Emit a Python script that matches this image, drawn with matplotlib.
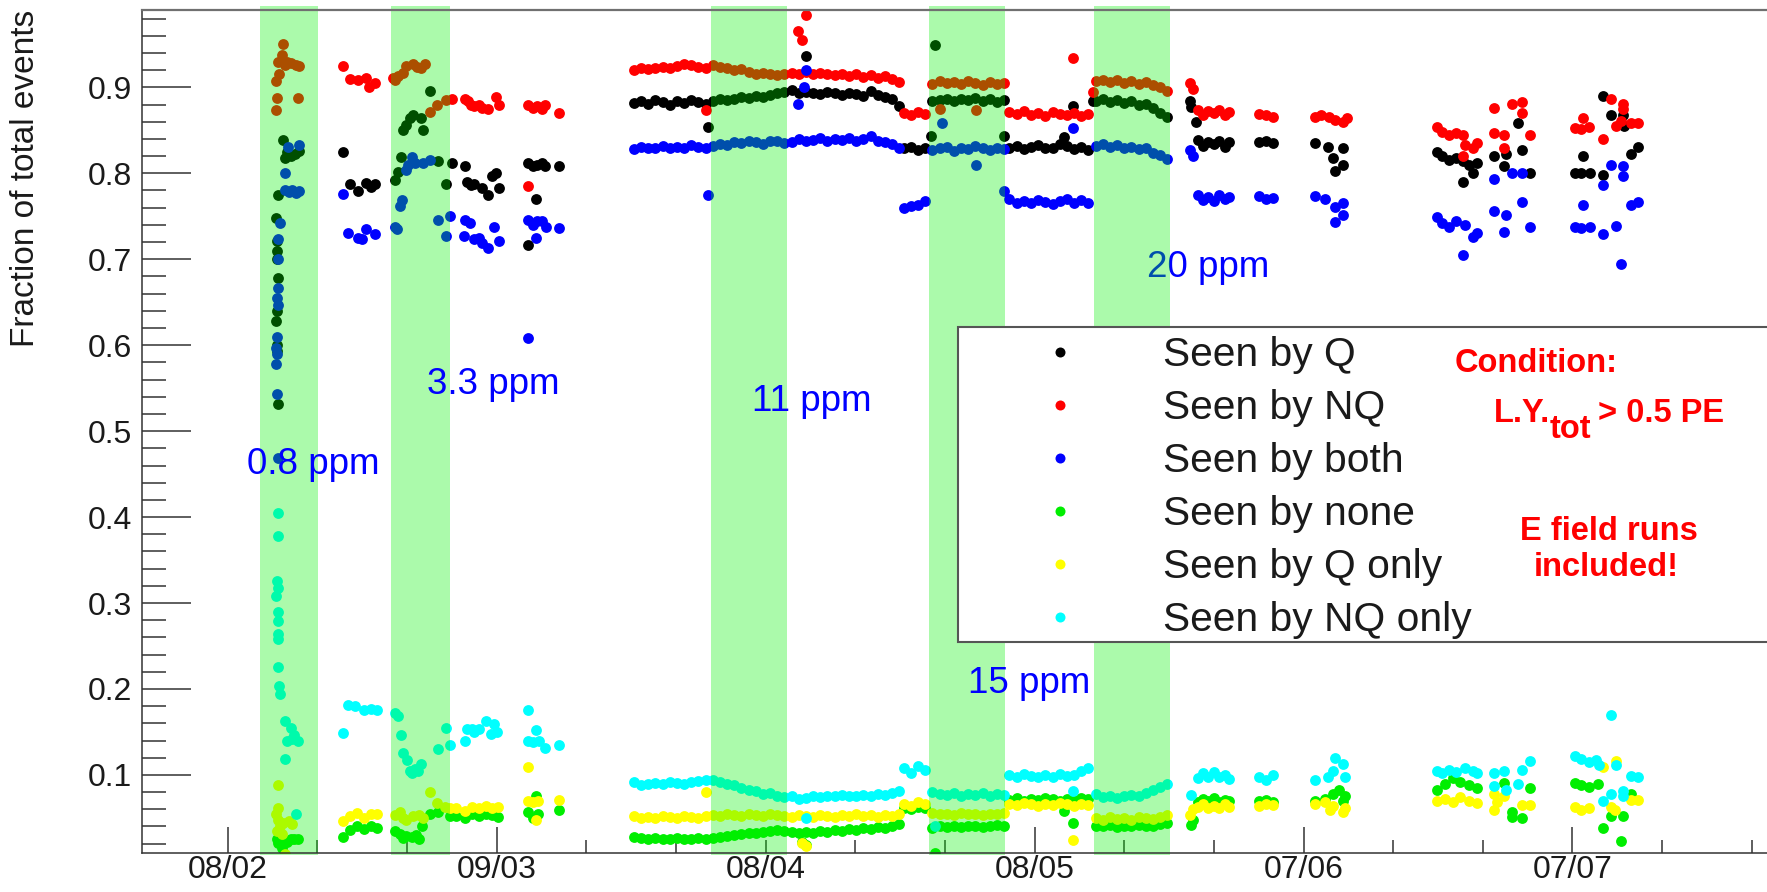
import matplotlib
matplotlib.use('Agg')
import matplotlib.pyplot as plt
from matplotlib.lines import Line2D
from matplotlib.patches import Rectangle

plt.rcParams['font.family'] = ['Liberation Sans', 'DejaVu Sans']

# ---------------- data ----------------
series_labels = ['Seen by Q', 'Seen by NQ', 'Seen by both', 'Seen by none',
                 'Seen by Q only', 'Seen by NQ only']
series_colors = ['#000000', '#ff0000', '#0000ff', '#00ee00', '#ffff00', '#00ffff']

tick_pos = [0, 3, 6, 9, 12, 15]
tick_labels = ['08/02', '09/03', '08/04', '08/05', '07/06', '07/07']

# runs with (nearly) continuous data taking
run_x = [4.53, 4.61, 4.69, 4.77, 4.85, 4.93, 5.01, 5.09, 5.17, 5.25, 5.33, 5.41, 5.49,
         5.57, 5.65, 5.73, 5.81, 5.89, 5.97, 6.05, 6.13, 6.21, 6.29, 6.37, 6.45, 6.53,
         6.61, 6.69, 6.77, 6.85, 6.93, 7.01, 7.09, 7.17, 7.25, 7.33, 7.41, 7.49,
         7.54, 7.62, 7.70, 7.78,
         7.86, 7.94, 8.02, 8.10, 8.18, 8.26, 8.34, 8.42, 8.50, 8.58, 8.66,
         8.72, 8.80, 8.88, 8.96, 9.04, 9.12, 9.20, 9.28, 9.36, 9.44, 9.52, 9.60,
         9.68, 9.76, 9.84, 9.92, 10.00, 10.08, 10.16, 10.24, 10.32, 10.40, 10.48]

q_run = [0.882, 0.884, 0.881, 0.885, 0.883, 0.880, 0.884, 0.882, 0.885, 0.883, 0.881, 0.884, 0.886,
         0.885, 0.887, 0.889, 0.888, 0.890, 0.889, 0.891, 0.893, 0.895, 0.897, 0.893, 0.895, 0.894,
         0.892, 0.895, 0.893, 0.891, 0.894, 0.892, 0.890, 0.896, 0.891, 0.889, 0.887, 0.878,
         0.829, 0.831, 0.827, 0.830,
         0.884, 0.885, 0.887, 0.884, 0.886, 0.885, 0.888, 0.884, 0.886, 0.883, 0.885,
         0.829, 0.832, 0.828, 0.831, 0.833, 0.829, 0.830, 0.834, 0.832, 0.828, 0.831, 0.827,
         0.884, 0.886, 0.883, 0.885, 0.882, 0.884, 0.880, 0.881, 0.876, 0.870, 0.865]
nq_run = [0.920, 0.922, 0.921, 0.923, 0.924, 0.922, 0.925, 0.927, 0.926, 0.924, 0.923, 0.926, 0.924,
          0.922, 0.920, 0.921, 0.918, 0.916, 0.917, 0.915, 0.914, 0.916, 0.917, 0.915, 0.918, 0.916,
          0.917, 0.915, 0.914, 0.916, 0.913, 0.915, 0.912, 0.914, 0.911, 0.913, 0.910, 0.906,
          0.870, 0.868, 0.871, 0.869,
          0.904, 0.907, 0.905, 0.906, 0.904, 0.907, 0.905, 0.903, 0.906, 0.904, 0.905,
          0.871, 0.869, 0.872, 0.868, 0.870, 0.867, 0.871, 0.869, 0.868, 0.870, 0.867, 0.869,
          0.907, 0.909, 0.906, 0.908, 0.905, 0.907, 0.904, 0.906, 0.903, 0.900, 0.896]
both_run = [0.828, 0.831, 0.830, 0.829, 0.832, 0.830, 0.831, 0.829, 0.833, 0.831, 0.830, 0.832, 0.834,
            0.833, 0.836, 0.835, 0.838, 0.836, 0.834, 0.837, 0.838, 0.835, 0.836, 0.840, 0.838, 0.839,
            0.841, 0.838, 0.840, 0.839, 0.841, 0.837, 0.840, 0.843, 0.838, 0.836, 0.834, 0.830,
            0.760, 0.762, 0.763, 0.768,
            0.827, 0.829, 0.831, 0.826, 0.830, 0.828, 0.832, 0.829, 0.827, 0.830, 0.828,
            0.770, 0.766, 0.768, 0.765, 0.769, 0.767, 0.764, 0.768, 0.770, 0.766, 0.769, 0.765,
            0.832, 0.834, 0.831, 0.833, 0.830, 0.831, 0.828, 0.829, 0.824, 0.821, 0.817]
none_run = [0.028, 0.027, 0.026, 0.027, 0.025, 0.026, 0.027, 0.025, 0.026, 0.027, 0.026, 0.027, 0.028,
            0.029, 0.030, 0.031, 0.032, 0.033, 0.034, 0.035, 0.036, 0.035, 0.034, 0.033, 0.034, 0.033,
            0.035, 0.034, 0.036, 0.035, 0.037, 0.036, 0.038, 0.037, 0.039, 0.038, 0.040, 0.043,
            0.062, 0.060, 0.063, 0.061,
            0.038, 0.040, 0.039, 0.041, 0.039, 0.040, 0.041, 0.039, 0.040, 0.042, 0.041,
            0.071, 0.073, 0.070, 0.072, 0.071, 0.073, 0.072, 0.070, 0.072, 0.071, 0.073, 0.072,
            0.041, 0.040, 0.042, 0.039, 0.041, 0.040, 0.042, 0.040, 0.041, 0.043, 0.044]
qonly_run = [0.052, 0.050, 0.051, 0.050, 0.052, 0.051, 0.050, 0.052, 0.051, 0.050, 0.052, 0.053, 0.052,
             0.054, 0.053, 0.052, 0.054, 0.053, 0.052, 0.054, 0.053, 0.052, 0.051, 0.053, 0.052, 0.051,
             0.053, 0.052, 0.051, 0.053, 0.052, 0.054, 0.052, 0.053, 0.051, 0.053, 0.052, 0.054,
             0.066, 0.064, 0.068, 0.066,
             0.056, 0.054, 0.055, 0.053, 0.056, 0.054, 0.055, 0.053, 0.055, 0.054, 0.056,
             0.066, 0.065, 0.067, 0.066, 0.064, 0.066, 0.065, 0.067, 0.066, 0.064, 0.066, 0.065,
             0.050, 0.048, 0.051, 0.049, 0.050, 0.048, 0.051, 0.050, 0.049, 0.051, 0.053]
nqonly_run = [0.092, 0.088, 0.090, 0.091, 0.090, 0.092, 0.091, 0.090, 0.092, 0.093, 0.094, 0.094, 0.092,
              0.090, 0.088, 0.085, 0.083, 0.081, 0.078, 0.079, 0.076, 0.074, 0.075, 0.072, 0.073, 0.075,
              0.074, 0.076, 0.075, 0.077, 0.076, 0.075, 0.077, 0.076, 0.078, 0.077, 0.079, 0.081,
              0.108, 0.102, 0.110, 0.106,
              0.080, 0.078, 0.077, 0.079, 0.076, 0.078, 0.077, 0.079, 0.076, 0.078, 0.077,
              0.100, 0.098, 0.101, 0.099, 0.097, 0.100, 0.098, 0.101, 0.099, 0.100, 0.104, 0.108,
              0.078, 0.074, 0.076, 0.073, 0.075, 0.077, 0.076, 0.079, 0.082, 0.086, 0.089]

# isolated runs / scattered points (x, fraction)
q_pts = [(0.56, 0.531), (0.55, 0.593), (0.55, 0.60), (0.54, 0.628), (0.55, 0.64), (0.56, 0.678),
         (0.55, 0.70), (0.55, 0.71), (0.55, 0.721), (0.54, 0.748), (0.56, 0.775), (0.62, 0.839),
         (0.64, 0.818), (0.66, 0.825), (0.70, 0.820), (0.75, 0.822), (0.79, 0.826),
         (1.28, 0.825), (1.36, 0.787), (1.45, 0.779), (1.54, 0.789), (1.60, 0.784), (1.64, 0.787),
         (1.86, 0.792), (1.90, 0.802), (1.93, 0.819), (1.96, 0.85), (1.99, 0.856), (2.03, 0.864),
         (2.07, 0.868), (2.16, 0.864), (2.18, 0.85), (2.26, 0.896), (2.35, 0.814), (2.43, 0.787),
         (2.50, 0.812), (2.65, 0.808), (2.67, 0.79), (2.71, 0.786), (2.75, 0.787), (2.84, 0.783),
         (2.90, 0.775), (2.95, 0.797), (2.99, 0.80), (3.03, 0.783),
         (3.35, 0.812), (3.40, 0.808), (3.45, 0.81), (3.50, 0.812), (3.54, 0.809), (3.44, 0.77),
         (3.35, 0.716), (3.69, 0.808),
         (5.36, 0.854), (6.45, 0.936), (7.89, 0.949), (7.85, 0.843), (8.66, 0.843), (9.43, 0.878),
         (9.33, 0.842), (9.65, 0.884),
         (10.73, 0.884), (10.75, 0.877), (10.80, 0.86), (10.82, 0.839), (10.88, 0.832), (10.94, 0.836),
         (11.00, 0.834), (11.06, 0.838), (11.12, 0.831), (11.17, 0.836),
         (11.50, 0.836), (11.58, 0.838), (11.66, 0.835),
         (12.13, 0.835), (12.27, 0.831), (12.44, 0.829), (12.33, 0.818), (12.44, 0.81), (12.35, 0.803),
         (13.49, 0.825), (13.55, 0.82), (13.62, 0.816), (13.70, 0.818), (13.78, 0.814), (13.85, 0.81),
         (13.89, 0.80), (13.78, 0.79), (13.93, 0.812),
         (14.39, 0.858), (14.13, 0.82), (14.26, 0.822), (14.24, 0.808), (14.44, 0.827), (14.53, 0.8),
         (15.34, 0.89), (15.43, 0.868), (15.56, 0.868), (15.58, 0.855), (15.12, 0.82), (15.03, 0.80),
         (15.10, 0.80), (15.20, 0.80), (15.34, 0.798), (15.65, 0.823), (15.73, 0.831)]
nq_pts = [(0.54, 0.874), (0.55, 0.888), (0.54, 0.907), (0.57, 0.915), (0.56, 0.93), (0.60, 0.938),
          (0.62, 0.95), (0.64, 0.926), (0.66, 0.93), (0.70, 0.928), (0.76, 0.926), (0.80, 0.925),
          (0.78, 0.888),
          (1.28, 0.925), (1.36, 0.91), (1.45, 0.908), (1.54, 0.911), (1.57, 0.90), (1.64, 0.905),
          (1.84, 0.911), (1.87, 0.909), (1.90, 0.913), (1.96, 0.917), (1.99, 0.925), (2.07, 0.927),
          (2.11, 0.924), (2.16, 0.922), (2.20, 0.927), (2.26, 0.871), (2.33, 0.879), (2.43, 0.885),
          (2.50, 0.887), (2.65, 0.887), (2.68, 0.884), (2.71, 0.88), (2.75, 0.878), (2.80, 0.879),
          (2.84, 0.876), (2.90, 0.875), (2.99, 0.889), (3.03, 0.880),
          (3.35, 0.88), (3.40, 0.876), (3.45, 0.878), (3.50, 0.875), (3.54, 0.879), (3.35, 0.785),
          (3.69, 0.87),
          (5.34, 0.874), (6.36, 0.966), (6.40, 0.955), (6.45, 0.984), (7.94, 0.875), (8.35, 0.874),
          (9.43, 0.934), (9.65, 0.895),
          (10.73, 0.905), (10.77, 0.898), (10.82, 0.874), (10.88, 0.868), (10.94, 0.872), (11.00, 0.870),
          (11.06, 0.874), (11.12, 0.868), (11.17, 0.871),
          (11.50, 0.869), (11.58, 0.868), (11.66, 0.866),
          (12.13, 0.866), (12.20, 0.868), (12.28, 0.865), (12.35, 0.862), (12.44, 0.86), (12.48, 0.864),
          (13.49, 0.854), (13.55, 0.848), (13.62, 0.845), (13.70, 0.847), (13.78, 0.845), (13.80, 0.833),
          (13.89, 0.83), (13.93, 0.835), (13.78, 0.82),
          (14.13, 0.876), (14.33, 0.881), (14.44, 0.883), (14.44, 0.87), (14.13, 0.847), (14.24, 0.845),
          (14.53, 0.845), (14.24, 0.83),
          (15.12, 0.864), (15.03, 0.853), (15.10, 0.852), (15.18, 0.854), (15.34, 0.84), (15.49, 0.855),
          (15.43, 0.886), (15.56, 0.881), (15.56, 0.875), (15.54, 0.861), (15.65, 0.859), (15.73, 0.859)]
both_pts = [(0.56, 0.469), (0.55, 0.543), (0.54, 0.578), (0.55, 0.59), (0.54, 0.597), (0.55, 0.61),
            (0.56, 0.647), (0.55, 0.655), (0.56, 0.667), (0.56, 0.70), (0.56, 0.723), (0.58, 0.742),
            (0.64, 0.80), (0.64, 0.78), (0.68, 0.778), (0.72, 0.781), (0.76, 0.777), (0.79, 0.779),
            (0.67, 0.831), (0.79, 0.833),
            (1.28, 0.776), (1.34, 0.731), (1.45, 0.725), (1.50, 0.724), (1.54, 0.735), (1.64, 0.729),
            (1.86, 0.738), (1.89, 0.735), (1.92, 0.762), (1.94, 0.769), (1.99, 0.804), (2.01, 0.81),
            (2.05, 0.819), (2.09, 0.812), (2.18, 0.812), (2.26, 0.815), (2.35, 0.746), (2.43, 0.727),
            (2.48, 0.75), (2.64, 0.727), (2.65, 0.746), (2.70, 0.742), (2.75, 0.723), (2.80, 0.725),
            (2.84, 0.719), (2.90, 0.713), (2.97, 0.738), (3.03, 0.721),
            (3.35, 0.746), (3.40, 0.74), (3.45, 0.744), (3.50, 0.745), (3.55, 0.738), (3.44, 0.725),
            (3.35, 0.608), (3.69, 0.736),
            (5.36, 0.775), (6.36, 0.881), (6.43, 0.900), (6.45, 0.920), (7.97, 0.858), (8.35, 0.810),
            (8.66, 0.779), (9.43, 0.853),
            (10.73, 0.827), (10.77, 0.82), (10.82, 0.775), (10.88, 0.769), (10.94, 0.772), (11.00, 0.768),
            (11.06, 0.775), (11.12, 0.770), (11.17, 0.773),
            (11.50, 0.774), (11.58, 0.770), (11.66, 0.771),
            (12.13, 0.774), (12.24, 0.77), (12.35, 0.761), (12.44, 0.766), (12.44, 0.752), (12.35, 0.743),
            (13.49, 0.749), (13.55, 0.742), (13.62, 0.738), (13.70, 0.744), (13.80, 0.74), (13.89, 0.726),
            (13.93, 0.73), (13.78, 0.705),
            (14.13, 0.793), (14.33, 0.8), (14.44, 0.8), (14.44, 0.767), (14.13, 0.756), (14.26, 0.751),
            (14.24, 0.732), (14.53, 0.737),
            (15.43, 0.81), (15.56, 0.808), (15.56, 0.797), (15.34, 0.786), (15.12, 0.763), (15.03, 0.737),
            (15.10, 0.736), (15.20, 0.738), (15.34, 0.729), (15.49, 0.739), (15.54, 0.695), (15.65, 0.763),
            (15.73, 0.767)]
none_pts = [(0.55, 0.025), (0.56, 0.0205), (0.60, 0.015), (0.66, 0.022), (0.70, 0.026), (0.74, 0.025),
            (0.78, 0.026),
            (1.28, 0.028), (1.36, 0.036), (1.44, 0.040), (1.52, 0.037), (1.60, 0.040), (1.66, 0.038),
            (1.86, 0.035), (1.92, 0.031), (1.96, 0.027), (1.99, 0.029), (2.05, 0.028), (2.10, 0.030),
            (2.13, 0.026), (2.17, 0.040), (2.26, 0.054), (2.35, 0.057), (2.48, 0.052),
            (2.55, 0.052), (2.65, 0.05), (2.72, 0.054), (2.80, 0.052), (2.88, 0.055), (2.95, 0.053),
            (3.02, 0.051),
            (3.35, 0.057), (3.40, 0.05), (3.46, 0.055), (3.44, 0.076), (3.69, 0.059),
            (6.40, 0.022), (6.45, 0.018), (7.89, 0.009), (9.33, 0.058), (9.43, 0.044),
            (10.75, 0.042), (10.77, 0.047), (10.82, 0.068), (10.88, 0.072), (10.94, 0.07), (11.00, 0.073),
            (11.06, 0.069), (11.12, 0.071), (11.17, 0.07),
            (11.50, 0.07), (11.58, 0.071), (11.66, 0.069),
            (12.13, 0.07), (12.24, 0.072), (12.33, 0.078), (12.40, 0.083), (12.46, 0.075), (12.44, 0.07),
            (13.49, 0.082), (13.58, 0.09), (13.67, 0.096), (13.75, 0.092), (13.85, 0.088), (13.93, 0.085),
            (14.24, 0.091), (14.53, 0.085), (14.33, 0.057), (14.33, 0.051), (14.44, 0.05),
            (15.03, 0.091), (15.10, 0.088), (15.18, 0.086), (15.28, 0.089), (15.34, 0.038), (15.43, 0.052),
            (15.54, 0.023), (15.56, 0.052), (15.65, 0.078)]
qonly_pts = [(0.56, 0.088), (0.56, 0.061), (0.54, 0.054), (0.56, 0.047), (0.58, 0.040), (0.55, 0.035),
             (0.60, 0.031), (0.62, 0.044), (0.68, 0.046), (0.72, 0.043), (0.64, 0.008),
             (1.28, 0.046), (1.36, 0.052), (1.44, 0.056), (1.52, 0.050), (1.60, 0.055), (1.66, 0.054),
             (1.86, 0.053), (1.92, 0.057), (1.95, 0.050), (1.99, 0.048), (2.07, 0.052), (2.13, 0.053),
             (2.18, 0.05), (2.26, 0.08), (2.33, 0.067), (2.42, 0.063), (2.48, 0.062),
             (2.55, 0.062), (2.65, 0.058), (2.72, 0.063), (2.80, 0.062), (2.88, 0.064), (2.95, 0.061),
             (3.02, 0.063),
             (3.35, 0.109), (3.35, 0.07), (3.40, 0.068), (3.46, 0.07), (3.44, 0.048), (3.69, 0.071),
             (5.34, 0.080), (6.40, 0.021), (6.45, 0.017), (9.43, 0.024),
             (10.73, 0.053), (10.77, 0.06), (10.82, 0.063), (10.88, 0.066), (10.94, 0.061), (11.00, 0.064),
             (11.06, 0.062), (11.12, 0.066), (11.17, 0.063),
             (11.50, 0.064), (11.58, 0.066), (11.66, 0.065),
             (12.13, 0.066), (12.24, 0.068), (12.30, 0.059), (12.33, 0.064), (12.44, 0.057), (12.46, 0.062),
             (13.49, 0.07), (13.58, 0.072), (13.67, 0.068), (13.75, 0.074), (13.85, 0.07), (13.93, 0.067),
             (14.13, 0.078), (14.13, 0.059), (14.16, 0.068), (14.24, 0.076), (14.44, 0.065), (14.53, 0.065),
             (15.03, 0.063), (15.10, 0.059), (15.18, 0.061), (15.34, 0.109), (15.43, 0.063), (15.48, 0.059),
             (15.49, 0.116), (15.65, 0.071), (15.73, 0.071)]
nqonly_pts = [(0.56, 0.405), (0.56, 0.378), (0.55, 0.326), (0.56, 0.318), (0.54, 0.308), (0.56, 0.289),
              (0.56, 0.279), (0.56, 0.264), (0.56, 0.258), (0.56, 0.225), (0.57, 0.204), (0.58, 0.194),
              (0.64, 0.163), (0.70, 0.155), (0.74, 0.146), (0.66, 0.14), (0.72, 0.142), (0.78, 0.14),
              (0.64, 0.119), (0.76, 0.054),
              (1.28, 0.1485), (1.34, 0.181), (1.42, 0.180), (1.52, 0.176), (1.60, 0.177), (1.66, 0.175),
              (1.86, 0.172), (1.90, 0.168), (1.93, 0.146), (1.96, 0.125), (2.00, 0.117), (2.03, 0.105),
              (2.06, 0.102), (2.09, 0.107), (2.12, 0.104), (2.15, 0.113), (2.35, 0.13), (2.43, 0.155),
              (2.48, 0.135),
              (2.65, 0.14), (2.67, 0.153), (2.73, 0.153), (2.75, 0.15), (2.80, 0.154), (2.88, 0.163),
              (2.94, 0.148), (2.97, 0.159), (3.00, 0.15),
              (3.35, 0.175), (3.35, 0.14), (3.40, 0.138), (3.44, 0.152), (3.47, 0.14), (3.54, 0.131),
              (3.69, 0.135),
              (6.45, 0.050), (7.89, 0.040), (9.43, 0.081),
              (10.75, 0.077), (10.82, 0.096), (10.88, 0.102), (10.94, 0.098), (11.00, 0.103), (11.06, 0.097),
              (11.12, 0.100), (11.17, 0.095),
              (11.50, 0.098), (11.58, 0.094), (11.66, 0.1),
              (12.13, 0.094), (12.27, 0.098), (12.33, 0.105), (12.35, 0.12), (12.44, 0.113), (12.46, 0.098),
              (13.49, 0.105), (13.55, 0.102), (13.62, 0.106), (13.70, 0.103), (13.80, 0.108), (13.89, 0.105),
              (13.93, 0.102),
              (14.13, 0.102), (14.24, 0.104), (14.44, 0.106), (14.53, 0.116), (14.13, 0.087), (14.26, 0.083),
              (14.39, 0.089),
              (15.03, 0.122), (15.10, 0.118), (15.18, 0.115), (15.26, 0.117), (15.30, 0.112), (15.43, 0.17),
              (15.49, 0.112), (15.65, 0.099), (15.73, 0.098), (15.34, 0.07), (15.43, 0.078), (15.56, 0.081),
              (15.56, 0.075)]

# shaded periods (start, end) and their impurity labels
band_spans = [(0.36, 1.01), (1.82, 2.48), (5.39, 6.24), (7.82, 8.67), (9.665, 10.51)]
ppm_labels = ['0.8 ppm', '3.3 ppm', '11 ppm', '15 ppm', '20 ppm']

# ---------------- figure ----------------
W, H = 1767, 892
fig = plt.figure(figsize=(W / 100, H / 100), dpi=100)


def fx(px):
    return px / W


def fy(py):
    return 1 - py / H


ax = fig.add_axes([fx(141.7), fy(852.7), 1 - fx(141.7), fy(10) - fy(852.7)])
ax.set_xlim(-0.96, 17.17)
ax.set_ylim(0.0095, 0.99)

runs = [q_run, nq_run, both_run, none_run, qonly_run, nqonly_run]
pts = [q_pts, nq_pts, both_pts, none_pts, qonly_pts, nqonly_pts]
for r, p, c in zip(runs, pts, series_colors):
    xs = list(run_x) + [a for a, b in p]
    ys = list(r) + [b for a, b in p]
    ax.plot(xs, ys, ls='none', marker='o', ms=7.8, mfc=c, mec=c, mew=0, zorder=2)

for x0, x1 in band_spans:
    ax.axvspan(x0, x1, ymin=-0.003, ymax=1.005, color=(0.0, 0.95, 0.0), alpha=0.33,
               lw=0, zorder=2.4, clip_on=False)

# axes styling (ROOT-like)
ax.spines['right'].set_visible(False)
ax.spines['top'].set_color('#707070')
ax.spines['top'].set_linewidth(1.6)
for s in ['left', 'bottom']:
    ax.spines[s].set_color('#333333')
    ax.spines[s].set_linewidth(1.1)

ax.set_yticks([0.1, 0.2, 0.3, 0.4, 0.5, 0.6, 0.7, 0.8, 0.9])
ax.set_yticklabels(['0.1', '0.2', '0.3', '0.4', '0.5', '0.6', '0.7', '0.8', '0.9'])
ax.set_yticks([0.02 + 0.02 * i for i in range(49) if (i + 1) % 5 != 0], minor=True)

major_x = [p for p in tick_pos if p != 6]
ax.set_xticks(major_x)
ax.set_xticklabels([l for p, l in zip(tick_pos, tick_labels) if p != 6])
minor_x = [i for i in range(0, 18) if i not in major_x]
ax.set_xticks(minor_x, minor=True)
ax.set_xticklabels([tick_labels[tick_pos.index(i)] if i in tick_pos else '' for i in minor_x],
                   minor=True)

ax.tick_params(axis='both', which='both', direction='in', colors='#333333', width=1.1,
               labelcolor='#1a1a1a', labelsize=23, top=False, right=False)
ax.tick_params(axis='y', which='major', length=35, pad=7)
ax.tick_params(axis='y', which='minor', length=17.5)
ax.tick_params(axis='x', which='major', length=18.7, pad=2)
ax.tick_params(axis='x', which='minor', length=9.4, pad=2)

fig.text(fx(26), fy(10), 'Fraction of total events', rotation=90, ha='center', va='top',
         fontsize=24, color='#1a1a1a')

# impurity annotations
ppm_pos = [(247, 474), (427, 394), (752, 411), (968, 693), (1147, 277)]
for lab, (px, py) in zip(ppm_labels, ppm_pos):
    z = 2.3 if lab == '20 ppm' else 6
    ax.text(fx(px), fy(py), lab, transform=fig.transFigure, color='#0000ff', fontsize=26.5,
            ha='left', va='baseline', zorder=z)

# legend box (drawn on top of the shaded periods)
fig.add_artist(Rectangle((fx(958.3), fy(641.7)), 1.0, fy(326.7) - fy(641.7),
                         transform=fig.transFigure, fc='white', ec='#555555', lw=1.5, zorder=3))
for i, (lab, c) in enumerate(zip(series_labels, series_colors)):
    row = 351.7 + 53.0 * i
    fig.add_artist(Line2D([fx(1060)], [fy(row)], transform=fig.transFigure, ls='none',
                          marker='o', ms=7.2, mfc=c, mec=c, mew=0, zorder=4))
    fig.text(fx(1163.3), fy(row + 14.5), lab, fontsize=29.3, color='#1a1a1a',
             ha='left', va='baseline', zorder=4)

red = '#ff0000'
fig.text(fx(1455), fy(371.7), 'Condition:', color=red, fontsize=23.5, fontweight='bold', zorder=4)
fig.text(fx(1494), fy(421.7), 'L.Y.', color=red, fontsize=23.5, fontweight='bold', zorder=4)
fig.text(fx(1550), fy(438.3), 'tot', color=red, fontsize=23.5, fontweight='bold', zorder=4)
fig.text(fx(1598), fy(421.7), '> 0.5 PE', color=red, fontsize=23.5, fontweight='bold', zorder=4)
fig.text(fx(1609), fy(540), 'E field runs', color=red, fontsize=23.5, fontweight='bold',
         ha='center', zorder=4)
fig.text(fx(1606), fy(576), 'included!', color=red, fontsize=23.5, fontweight='bold',
         ha='center', zorder=4)

fig.savefig('out.png', dpi=100)
